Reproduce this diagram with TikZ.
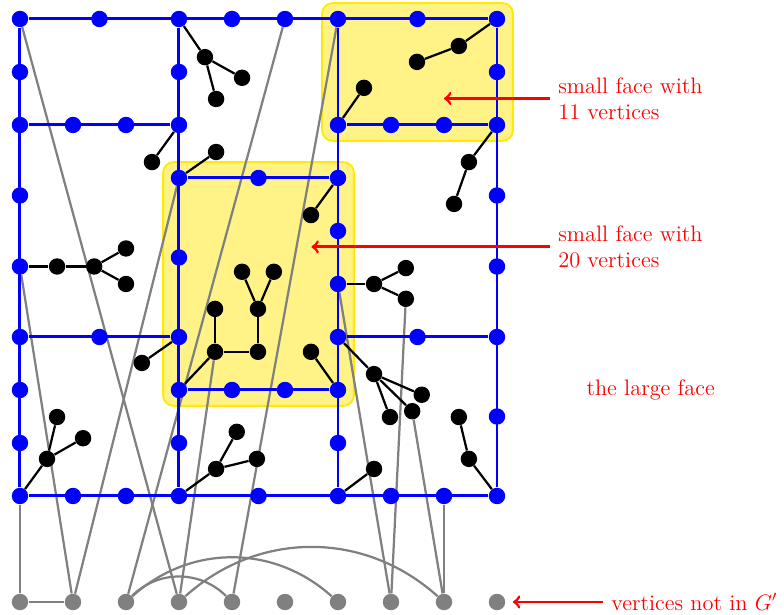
\documentclass[tikz,border=0pt]{standalone}
\usepackage{tikz}
\usetikzlibrary{calc, backgrounds}
\definecolor{facefill}{RGB}{255,243,135}
\definecolor{faceline}{RGB}{255,235,0}

\begin{document}
\begin{tikzpicture}[x=1cm, y=-1cm,
    bv/.style={circle, fill=blue, inner sep=0pt, minimum size=0.31cm},
    kv/.style={circle, fill=black, inner sep=0pt, minimum size=0.31cm},
    gv/.style={circle, fill=gray, inner sep=0pt, minimum size=0.31cm},
    bedge/.style={draw=blue, line width=1.6pt},
    kedge/.style={draw=black, line width=1.2pt},
    gedge/.style={draw=gray, line width=1.2pt},
    face/.style={draw=faceline, line width=1pt, fill=facefill, rounded corners=0.2cm},
    note/.style={text=red, font=\large, align=left, anchor=west, inner sep=0.15cm},
    arrow/.style={->, draw=red, line width=1.5pt}
]
\useasboundingbox (-0.377,-0.358) rectangle (14.415,11.245);
% blue vertices: outer frame
\foreach \n/\x in {t0/0, t1/1.5, t2/3, t3/4, t4/5, t5/6, t6/7.5, t7/9}
    \node[bv] (\n) at (\x,0) {};
\foreach \n/\y in {l1/1, l2/2, l3/3.33, l4/4.67, l5/6, l6/7, l7/8, l8/9}
    \node[bv] (\n) at (0,\y) {};
\foreach \n/\y in {r1/1, r2/2, r3/3.33, r4/4.67, r5/6, r6/7.5, r7/9}
    \node[bv] (\n) at (9,\y) {};
\foreach \n/\x in {s1/1, s2/2, s3/3, s4/4.5, s5/6, s6/7, s7/8}
    \node[bv] (\n) at (\x,9) {};
% blue vertices: inner columns and rows
\foreach \n/\y in {m1/1, m2/2, m3/3, m4/4.5, m5/6, m6/7, m7/8}
    \node[bv] (\n) at (3,\y) {};
\foreach \n/\y in {n2/2, n3/3, n4/4, n5/5, n6/6, n7/7, n8/8}
    \node[bv] (\n) at (6,\y) {};
\foreach \n/\x/\y in {a1/1/2, a2/2/2, a3/1.5/6, c1/4.5/3, c2/4/7, c3/5/7,
    e1/7/2, e2/8/2, e3/7.5/6}
    \node[bv] (\n) at (\x,\y) {};
% black vertices (trees)
\foreach \n/\x/\y in {k1/3.49/0.72, k2/4.19/1.11, k3/3.70/1.51, k4/2.49/2.70,
    k5/3.70/2.51, k6/8.28/0.51, k7/7.49/0.81, k8/6.49/1.30, k9/8.47/2.70,
    k10/8.19/3.49, k11/5.49/3.70, k12/0.70/4.67, k13/1.40/4.67, k14/2.0/4.33,
    k15/2.0/5.0, k16/4.19/4.77, k17/4.79/4.77, k18/4.49/5.47, k19/4.49/6.28,
    k20/3.68/5.47, k21/3.68/6.28, k22/5.49/6.28, k23/6.68/5.0, k24/7.28/4.70,
    k25/7.28/5.28, k26/6.68/6.70, k27/7.58/7.09, k28/7.40/7.40, k29/6.98/7.51,
    k30/2.30/6.49, k31/0.51/8.30, k32/0.70/7.51, k33/1.19/7.91, k34/3.70/8.49,
    k35/4.09/7.79, k36/4.47/8.30, k37/6.68/8.49, k38/8.47/8.30, k39/8.28/7.51}
    \node[kv] (\n) at (\x,\y) {};
% vertices not in G'
\foreach \i in {0,...,9}
    \node[gv] (g\i) at (\i,11) {};
% labels
\node[note] (n11) at (10,1.5) {small face with\\11 vertices};
\node[note] (n20) at (10,4.3) {small face with\\20 vertices};
\node[text=red, font=\large] (big) at (11.9,7) {the large face};
\node[note] (nout) at (11,11) {vertices not in $G'$};
\coordinate (p11) at (8,1.5);
\coordinate (p20) at (5.5,4.3);
\coordinate (pout) at (9.3,11);

\begin{scope}[on background layer]
% small faces
\draw[face] ($(t5)+(-0.3,-0.3)$) rectangle ($(r2)+(0.3,0.3)$);
\draw[face] ($(m3)+(-0.3,-0.3)$) rectangle ($(n7)+(0.3,0.3)$);
% edges to and between vertices not in G'
\foreach \a/\b in {l8/g0, g0/g1, l4/g1, m3/g1, t4/g2, t0/g3, k21/g3, t5/g4,
    n5/g7, k25/g7, k28/g8, s7/g8}
    \draw[gedge] (\a) -- (\b);
\draw[gedge] (g2) to[bend left=45] (g4);
\draw[gedge] (g2) to[bend left=42] (g6);
\draw[gedge] (g3) to[bend left=42] (g8);
% blue edges
\draw[bedge] (t0) -- (t7) -- (r7) -- (l8) -- (t0);
\draw[bedge] (t2) -- (s3);
\draw[bedge] (t5) -- (s5);
\draw[bedge] (l2) -- (m2);
\draw[bedge] (l5) -- (m5);
\draw[bedge] (m3) -- (n3);
\draw[bedge] (m6) -- (n7);
\draw[bedge] (n2) -- (r2);
\draw[bedge] (n6) -- (r5);
% black edges
\foreach \a/\b in {t2/k1, k1/k2, k1/k3, m2/k4, m3/k5, t7/k6, k6/k7, n2/k8,
    r2/k9, k9/k10, n3/k11, l4/k12, k12/k13, k13/k14, k13/k15, k16/k18,
    k17/k18, k18/k19, k20/k21, k21/k19, m6/k21, n7/k22, n5/k23, k23/k24,
    k23/k25, n6/k26, k26/k27, k26/k28, k26/k29, m5/k30, l8/k31, k31/k32,
    k31/k33, s3/k34, k34/k35, k34/k36, s5/k37, r7/k38, k38/k39}
    \draw[kedge] (\a) -- (\b);
\end{scope}
% arrows
\draw[arrow] (n11.west) -- (p11);
\draw[arrow] (n20.west) -- (p20);
\draw[arrow] (nout.west) -- (pout);
\end{tikzpicture}
\end{document}
